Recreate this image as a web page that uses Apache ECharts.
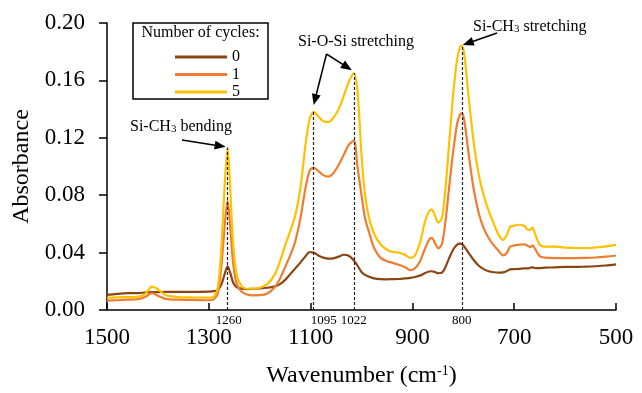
<!DOCTYPE html>
<html><head><meta charset="utf-8">
<script src="https://cdn.jsdelivr.net/npm/echarts@6/dist/echarts.min.js"></script>
<style>html,body{margin:0;padding:0;background:#fff}#c{width:642px;height:393px}</style>
</head><body><div id="c"></div>
<script>
// ---- data ----
const wavenumbers = [1500,1480,1460,1440,1425,1412,1400,1385,1360,1330,1300,1290,1282,1275,1268,1263,1258,1252,1245,1235,1225,1215,1200,1185,1170,1160,1150,1140,1130,1120,1110,1102,1094,1085,1075,1065,1055,1045,1035,1025,1015,1008,1000,993,985,975,963,950,940,927,915,904,895,885,875,867,862,856,849,842,835,828,820,812,806,803,798,790,780,770,760,750,740,730,722,715,708,700,690,680,672,668,664,658,650,640,620,600,580,560,540,520,500];
const cycles0 = [.0105,.0112,.0118,.0118,.0122,.0125,.0125,.0126,.0127,.0127,.0128,.0131,.014,.018,.026,.0305,.026,.019,.0158,.0148,.0146,.0147,.015,.0155,.0165,.018,.021,.025,.029,.033,.0375,.0404,.040,.038,.0365,.0358,.036,.0372,.0385,.0378,.0345,.031,.0265,.0245,.0232,.022,.0215,.0214,.0215,.0216,.022,.0224,.023,.024,.0258,.0268,.027,.0265,.0256,.026,.030,.036,.042,.0455,.0462,.046,.0442,.040,.035,.031,.0285,.027,.0263,.026,.0262,.027,.0283,.0285,.0287,.029,.029,.0295,.0297,.0292,.0292,.0295,.0297,.030,.030,.0302,.0305,.031,.0318];
const cycles1 = [.0065,.0068,.0072,.0075,.009,.0118,.010,.0078,.0072,.007,.0068,.0075,.012,.032,.062,.076,.058,.032,.018,.0125,.0108,.0102,.0103,.0115,.016,.022,.030,.038,.048,.064,.085,.097,.0993,.097,.094,.093,.0955,.101,.108,.115,.118,.100,.080,.064,.054,.043,.0365,.034,.033,.0315,.030,.0277,.029,.034,.043,.049,.0503,.047,.043,.046,.062,.085,.110,.130,.1365,.137,.132,.110,.085,.068,.057,.050,.045,.041,.038,.0395,.044,.045,.0455,.0458,.0445,.0438,.045,.042,.0375,.0365,.0362,.0362,.0362,.0363,.0366,.0372,.038];
const cycles5 = [.0085,.0088,.009,.0092,.011,.0163,.0145,.0105,.009,.0087,.0086,.0095,.016,.045,.092,.113,.085,.045,.024,.0165,.0148,.0148,.0155,.018,.025,.034,.045,.055,.066,.085,.115,.133,.138,.135,.1315,.131,.134,.14,.149,.159,.165,.153,.108,.080,.064,.053,.046,.042,.0405,.040,.0385,.0363,.038,.047,.062,.069,.070,.066,.061,.064,.085,.115,.150,.175,.1835,.184,.178,.150,.118,.095,.080,.069,.060,.052,.0488,.052,.058,.0588,.0594,.0585,.0556,.056,.0574,.052,.0455,.0442,.0442,.0435,.0432,.0431,.0436,.0444,.0454];
const seriesNames = ['0', '1', '5'];
const peakWavenumbers = [1263, 1094, 1015, 803];
const peakLabels = ['1260', '1095', '1022', '800'];
const legendTitle = 'Number of cycles:';

// ---- styles ----
const FONT = '"Liberation Serif", "Times New Roman", serif';
const colors = ['#8B4513', '#ED7D31', '#FFC000'];
const allValues = [cycles0, cycles1, cycles5];

const chart = echarts.init(document.getElementById('c'), null, {renderer: 'canvas'});

function peakTop(w) { return cycles5[wavenumbers.indexOf(w)]; }

const series = seriesNames.map((name, k) => ({
  name: name,
  type: 'line',
  data: wavenumbers.map((w, i) => [w, allValues[k][i]]),
  symbol: 'none',
  showSymbol: false,
  smooth: 0.3,
  lineStyle: {width: 2.2, color: colors[k]},
  itemStyle: {color: colors[k]},
  z: 2 + k,
  animation: false
}));
series[2].markLine = {
  silent: true,
  symbol: ['none', 'none'],
  label: {show: false},
  lineStyle: {type: [3, 2], color: '#222', width: 1.2},
  data: peakWavenumbers.map(w => [{coord: [w, 0]}, {coord: [w, peakTop(w)]}]),
  animation: false
};

chart.setOption({
  animation: false,
  grid: {left: 107, top: 23, width: 509, height: 294, containLabel: false},
  xAxis: {
    type: 'value', inverse: true, min: 500, max: 1500, interval: 200,
    axisLine: {show: true, lineStyle: {color: '#000', width: 1.5}},
    axisTick: {show: true, inside: true, length: 7, lineStyle: {color: '#000', width: 1.5}},
    axisLabel: {fontSize: 23, fontFamily: FONT, color: '#000', margin: 16, formatter: v => String(v)},
    splitLine: {show: false},
    name: 'Wavenumber (cm{sup|-1})',
    nameLocation: 'middle', nameGap: 54,
    nameTextStyle: {fontSize: 24, fontFamily: FONT, color: '#000',
      rich: {sup: {fontSize: 14, fontFamily: FONT, color: '#000', verticalAlign: 'top'}}}
  },
  yAxis: {
    type: 'value', min: 0, max: 0.2, interval: 0.04,
    axisLine: {show: true, lineStyle: {color: '#000', width: 1.5}},
    axisTick: {show: true, inside: false, length: 8, lineStyle: {color: '#000', width: 1.5}},
    axisLabel: {fontSize: 23, fontFamily: FONT, color: '#000', margin: 22, formatter: v => v.toFixed(2)},
    splitLine: {show: false},
    name: 'Absorbance', nameLocation: 'middle', nameGap: 63,
    nameTextStyle: {fontSize: 24, fontFamily: FONT, color: '#000'}
  },
  legend: {
    data: seriesNames, orient: 'vertical', left: 170, top: 44,
    itemWidth: 52, itemHeight: 3, icon: 'rect', itemGap: 1.5,
    textStyle: {fontSize: 16, fontFamily: FONT, color: '#000', lineHeight: 16},
    selectedMode: false
  },
  series: series
});

// ---- annotations positioned from the chart's own scales ----
function px(w, v) { return chart.convertToPixel({gridIndex: 0}, [w, v]); }
function arrow(tail, tip) {
  const dx = tip[0] - tail[0], dy = tip[1] - tail[1];
  const L = Math.hypot(dx, dy), ux = dx / L, uy = dy / L;
  const hl = 11, hw = 4.5;
  const base = [tip[0] - ux * hl, tip[1] - uy * hl];
  return [
    {type: 'line', z: 10, shape: {x1: tail[0], y1: tail[1], x2: base[0] + ux * 2, y2: base[1] + uy * 2}, style: {stroke: '#000', lineWidth: 1.5}},
    {type: 'polygon', z: 10, shape: {points: [tip, [base[0] - uy * hw, base[1] + ux * hw], [base[0] + uy * hw, base[1] - ux * hw]]}, style: {fill: '#000'}}
  ];
}
const axisY = px(1500, 0)[1];
const labelOffsets = [1, 10, 0, 0];
const tips = peakWavenumbers.map(w => px(w, peakTop(w)));
const g = [];
// legend box
g.push({type: 'rect', z: 1, shape: {x: 133, y: 23, width: 135, height: 76}, style: {fill: '#fff', stroke: '#000', lineWidth: 1.5}});
g.push({type: 'text', z: 5, x: 200.5, y: 33, style: {text: legendTitle, fontSize: 16, fontFamily: FONT, fill: '#000', align: 'center', verticalAlign: 'middle'}});
// peak position labels under axis
peakWavenumbers.forEach((w, i) => {
  const p = px(w, 0);
  g.push({type: 'text', z: 10, x: p[0] + labelOffsets[i], y: axisY + 11, style: {text: peakLabels[i], fontSize: 13, fontFamily: FONT, fill: '#000', align: 'center', verticalAlign: 'middle'}});
});
// band labels
const rich = {sub: {fontSize: 11, fontFamily: FONT, fill: '#000', verticalAlign: 'bottom', padding: [0, 0, 0, 0]}};
g.push({type: 'text', z: 10, x: 130, y: 127, style: {text: 'Si-CH{sub|3} bending', fontSize: 16, fontFamily: FONT, fill: '#000', align: 'left', verticalAlign: 'middle', rich: rich}});
g.push({type: 'text', z: 10, x: 298, y: 42, style: {text: 'Si-O-Si stretching', fontSize: 16, fontFamily: FONT, fill: '#000', align: 'left', verticalAlign: 'middle'}});
g.push({type: 'text', z: 10, x: 473, y: 27, style: {text: 'Si-CH{sub|3} stretching', fontSize: 16, fontFamily: FONT, fill: '#000', align: 'left', verticalAlign: 'middle', rich: rich}});
// arrows
g.push(...arrow([182, 140], [tips[0][0] - 2, tips[0][1] - 1]));
g.push(...arrow([326.5, 54], [tips[1][0], tips[1][1] - 7]));
g.push(...arrow([326.5, 54], [tips[2][0] - 2, tips[2][1] - 3]));
g.push(...arrow([497, 33], [tips[3][0] + 1, tips[3][1] - 1]));
chart.setOption({graphic: g});
</script>
</body></html>
